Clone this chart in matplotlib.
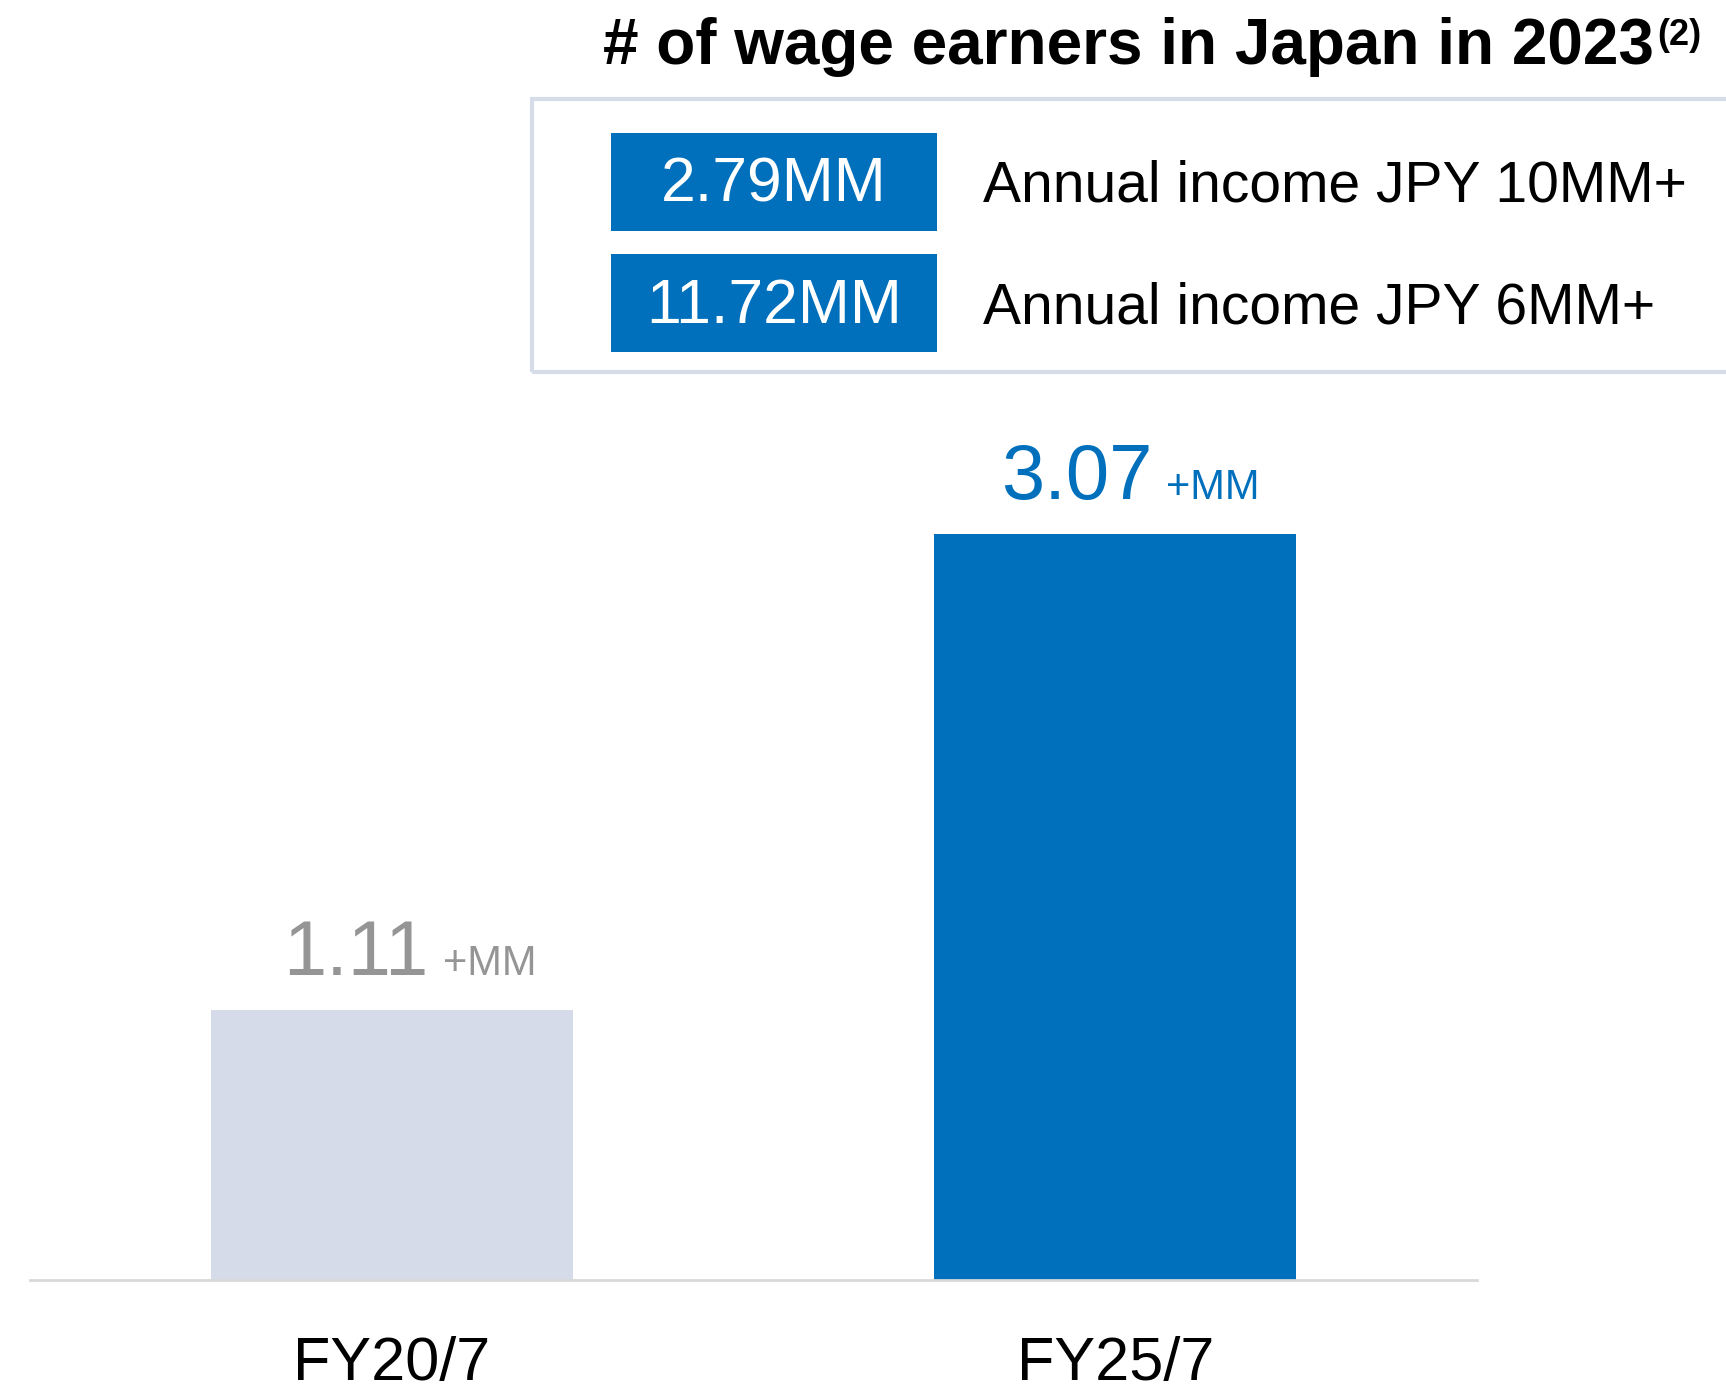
import matplotlib.pyplot as plt
from matplotlib.patches import Rectangle

W, H = 1726, 1395

# bar chart data
years = ['FY20/7', 'FY25/7']
earners = [1.11, 3.07]
bar_colors = ['#D5DBE8', '#0070BC']
label_colors = ['#959595', '#0070BC']
unit = '+MM'

# reference panel
title = '# of wage earners in Japan in 2023'
note = '(2)'
stats = ['2.79MM', '11.72MM']
stat_labels = ['Annual income JPY 10MM+', 'Annual income JPY 6MM+']

BLUE = '#0070BC'

plt.rcParams['font.family'] = ['Liberation Sans', 'DejaVu Sans']

fig = plt.figure(figsize=(W / 100, H / 100), dpi=100)


def fx(x):
    return x / W


def fy(y):
    return 1 - y / H


# bars
ax = fig.add_axes([fx(30), fy(1280), fx(1477) - fx(30), fy(400) - fy(1280)])
pos = list(range(len(years)))
ax.bar(pos, earners, width=0.5, color=bar_colors)
ax.set_xlim(-0.5, 1.5)
ax.set_ylim(0, 880 / 243)

for side in ['top', 'left', 'right']:
    ax.spines[side].set_visible(False)
ax.spines['bottom'].set_color('#D9D9D9')
ax.spines['bottom'].set_linewidth(2)
ax.set_yticks([])
ax.set_xticks(pos, years, fontsize=44)
ax.tick_params(axis='x', length=0, pad=40)

# value labels above bars
for i, v in enumerate(earners):
    ax.annotate(f'{v:.2f}', xy=(i, v), xytext=(37, 35), textcoords='offset pixels',
                ha='right', va='baseline', fontsize=56, color=label_colors[i])
    ax.annotate(unit, xy=(i, v), xytext=(51, 35), textcoords='offset pixels',
                ha='left', va='baseline', fontsize=30, color=label_colors[i])

# title with footnote marker
t = fig.text(fx(603), fy(64), title, ha='left', va='baseline',
             fontsize=46, fontweight='bold')
ax.annotate(note, xy=(1, 1), xycoords=t, xytext=(3, -1), textcoords='offset pixels',
            ha='left', va='top', fontsize=26, fontweight='bold',
            annotation_clip=False)

# outlined panel running off the right edge
fig.add_artist(Rectangle((fx(532), fy(372)), fx(1800) - fx(532), fy(99) - fy(372),
                         transform=fig.transFigure, fill=False,
                         edgecolor='#D7DCE9', linewidth=3))

rows_top = [133, 254]
for top, s, lab in zip(rows_top, stats, stat_labels):
    fig.add_artist(Rectangle((fx(611), fy(top + 98)), fx(937) - fx(611), fy(top) - fy(top + 98),
                             transform=fig.transFigure, facecolor=BLUE, edgecolor='none'))
    base = fy(top + 69)
    fig.text(fx(774), base, s, ha='center', va='baseline', fontsize=45, color='white')
    fig.text(fx(983), base, lab, ha='left', va='baseline', fontsize=41, color='black')

fig.savefig('out.png', dpi=100, facecolor='white')
